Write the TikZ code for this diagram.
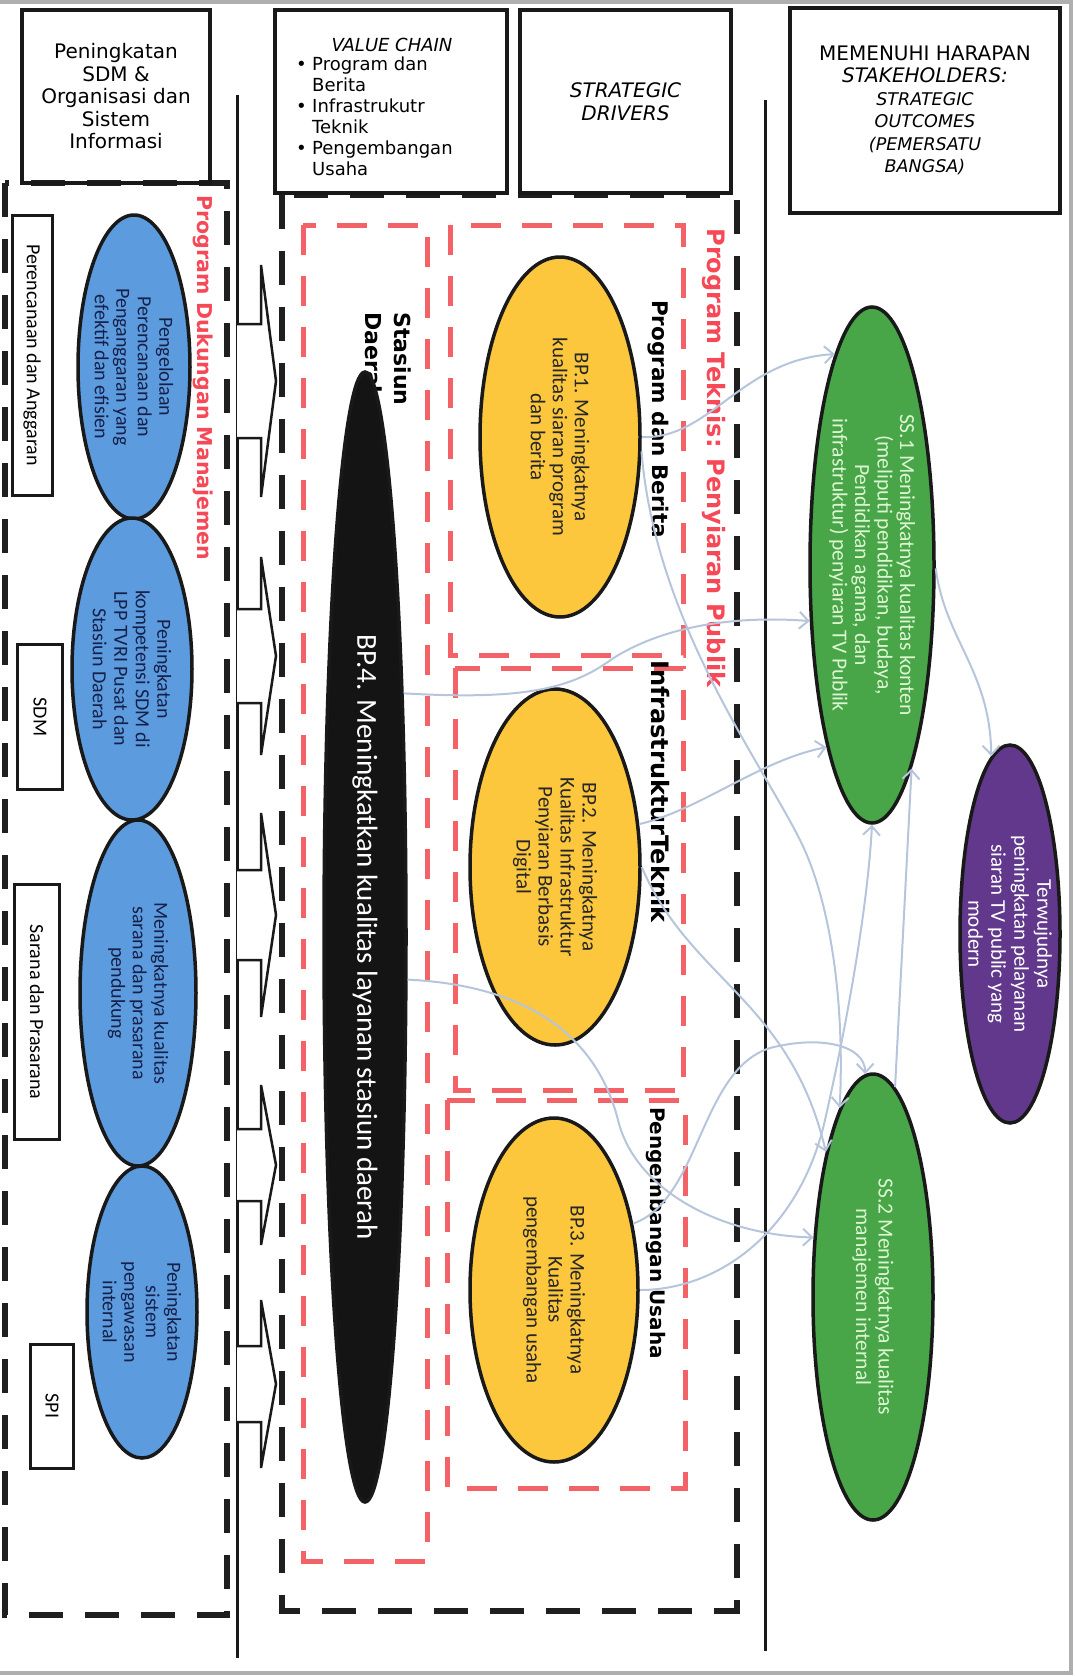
\documentclass[tikz,border=0pt]{standalone}
\usepackage{fontspec}
\setmainfont{DejaVu Sans}
\newfontfamily\calib{Carlito}
\usetikzlibrary{arrows.meta,shapes.geometric}
\definecolor{blueF}{RGB}{91,155,222}
\definecolor{navyT}{RGB}{22,32,72}
\definecolor{yellowF}{RGB}{252,199,60}
\definecolor{greenF}{RGB}{72,166,72}
\definecolor{purpleF}{RGB}{98,56,140}
\definecolor{redD}{RGB}{243,98,102}
\definecolor{redT}{RGB}{246,72,86}
\definecolor{connC}{RGB}{182,196,220}
\definecolor{ssT}{RGB}{220,246,210}
\definecolor{frameC}{RGB}{175,175,175}
\begin{document}
\begin{tikzpicture}[x=1pt,y=-1pt,
  hbox/.style={draw=black!90, line width=4pt, rectangle, inner sep=0pt, align=center},
  bdash/.style={draw=black!88, line width=6.5pt, dash pattern=on 34pt off 22pt},
  rdash/.style={draw=redD, line width=5pt, dash pattern=on 30pt off 21pt},
  divline/.style={draw=black!90, line width=3pt},
  barrow/.style={draw=black!90, line width=2.5pt, fill=white, line join=miter},
  ell/.style={ellipse, draw=black!90, line width=3.5pt, inner sep=0pt},
  vtext/.style={rotate=-90, align=center, inner sep=0pt},
  lbox/.style={rectangle, draw=black!90, line width=3pt, rotate=-90, inner sep=0pt, font=\calib\fontsize{20}{22}\selectfont},
  etext/.style={vtext, font=\calib\fontsize{20}{21.5}\selectfont},
  grp/.style={vtext, anchor=west, font=\bfseries\fontsize{22}{29}\selectfont},
  conn/.style={draw=connC, line width=2pt, -{Straight Barb[length=9pt,width=17pt]}}
]
\useasboundingbox (0,0) rectangle (1075,1676);
% outer frame
\draw[frameC, line width=4pt] (0,2) -- (1071,2) -- (1071,1673) -- (0,1673);

% dashed regions
\draw[bdash] (5,183) rectangle (227,1615);
\draw[bdash] (282,195) rectangle (737,1611);
\draw[rdash] (303,225) rectangle (427,1561);
\draw[rdash] (450,225) rectangle (683,655);
\draw[rdash] (455,668) rectangle (683,1090);
\draw[rdash] (447,1100) rectangle (685,1488);

% divider lines
\draw[divline] (237,95) -- (237,1658);
\draw[divline] (765,100) -- (765,1651);

% header boxes
\node[hbox, minimum width=188pt, minimum height=173pt, font=\fontsize{20}{22.5}\selectfont] (h1) at (116,96.5)
  {Peningkatan\\SDM \&\\Organisasi dan\\Sistem\\Informasi};
\node[hbox, minimum width=232pt, minimum height=183pt] (h2) at (391,101.5) {};
\node[inner sep=0pt, font=\itshape\fontsize{18}{21}\selectfont] (vc) at (392,45) {VALUE CHAIN};
\node[anchor=north west, align=left, inner sep=0pt, font=\fontsize{18}{21}\selectfont] (vcl) at (296,57)
  {\makebox[16pt][l]{•}Program dan\\\hspace*{16pt}Berita\\\makebox[16pt][l]{•}Infrastrukutr\\\hspace*{16pt}Teknik\\\makebox[16pt][l]{•}Pengembangan\\\hspace*{16pt}Usaha};
\node[hbox, minimum width=211pt, minimum height=183pt, font=\itshape\fontsize{20}{23}\selectfont] (h3) at (625.5,101.5)
  {STRATEGIC\\DRIVERS};
\node[hbox, minimum width=270pt, minimum height=205pt, font=\fontsize{20}{22.5}\selectfont] (h4) at (925,110.5)
  {MEMENUHI HARAPAN\\\textit{STAKEHOLDERS:}\\{\fontsize{17.5}{22.5}\selectfont\itshape STRATEGIC}\\{\fontsize{17.5}{22.5}\selectfont\itshape OUTCOMES}\\{\fontsize{17.5}{22.5}\selectfont\itshape (PEMERSATU}\\{\fontsize{17.5}{22.5}\selectfont\itshape BANGSA)}};

% block arrows
\foreach \c/\h/\b in {381/116/57, 656/99/47, 915/102/45, 1165/80/36, 1384/84/38}{
  \draw[barrow] (237,{\c-\b}) -- (261,{\c-\b}) -- (261,{\c-\h}) -- (276,\c) -- (261,{\c+\h}) -- (261,{\c+\b}) -- (237,{\c+\b});
}

% left label boxes
\node[lbox, minimum width=280pt, minimum height=40pt] (rpa) at (32,355) {Perencanaan dan Anggaran};
\node[lbox, minimum width=145pt, minimum height=45pt] (rsdm) at (40,717) {SDM};
\node[lbox, minimum width=255pt, minimum height=45pt] (rsp) at (37,1012) {Sarana dan Prasarana};
\node[lbox, minimum width=124pt, minimum height=43pt] (rspi) at (52,1406) {SPI};

% group labels
\node[vtext, text=redT, font=\bfseries\fontsize{20.5}{24}\selectfont] (pdml) at (203,378) {Program Dukungan Manajemen};
\node[vtext, text=redT, font=\bfseries\fontsize{24}{28}\selectfont] (ptl) at (714,458) {Program Teknis: Penyiaran Publik};
\node[grp, align=left] (stl) at (388,312) {Stasiun\\Daerah};
\node[grp, font=\bfseries\fontsize{21.5}{26}\selectfont] (pdbl) at (658,300) {Program dan Berita};
\node[grp, font=\bfseries\fontsize{24}{28}\selectfont] (infl) at (660,660) {InfrastrukturTeknik};
\node[grp, font=\bfseries\fontsize{20}{24}\selectfont] (pul) at (656,1107) {Pengembangan Usaha};

% ellipses
\node[ell, fill=blueF, minimum width=112pt, minimum height=304pt] (bl1) at (134,367) {};
\node[ell, fill=blueF, minimum width=120pt, minimum height=302pt] (bl2) at (132,669) {};
\node[ell, fill=blueF, minimum width=116pt, minimum height=346pt] (bl3) at (138,993) {};
\node[ell, fill=blueF, minimum width=110pt, minimum height=292pt] (bl4) at (142,1312) {};
\node[ell, fill=yellowF, minimum width=160pt, minimum height=360pt] (bp1) at (560,437) {};
\node[ell, fill=yellowF, minimum width=170pt, minimum height=356pt] (bp2) at (555,867) {};
\node[ell, fill=yellowF, minimum width=168pt, minimum height=344pt] (bp3) at (554,1290) {};
\node[ell, fill=black!92, minimum width=82pt, minimum height=1130pt] (bp4) at (365,937) {};
\node[ell, fill=greenF, minimum width=124pt, minimum height=516pt] (ss1) at (872,565) {};
\node[ell, fill=greenF, minimum width=120pt, minimum height=446pt] (ss2) at (873,1297) {};
\node[ell, fill=purpleF, minimum width=100pt, minimum height=378pt] (pu) at (1010,934) {};

% ellipse texts
\node[etext, text=navyT] (bl1t) at (bl1.center) {Pengelolaan\\Perencanaan dan\\Penganggaran yang\\efektif dan efisien};
\node[etext, text=navyT] (bl2t) at (bl2.center) {Peningkatan\\kompetensi SDM di\\LPP TVRI Pusat dan\\Stasiun Daerah};
\node[etext, text=navyT] (bl3t) at (bl3.center) {Meningkatnya kualitas\\sarana dan prasarana\\pendukung};
\node[etext, text=navyT] (bl4t) at (bl4.center) {Peningkatan\\sistem\\pengawasan\\internal};
\node[etext, text=black!85, font=\calib\fontsize{21}{22}\selectfont] (bp1t) at (bp1.center) {BP.1. Meningkatnya\\kualitas siaran program\\dan berita};
\node[etext, text=black!85, font=\calib\fontsize{21}{22}\selectfont] (bp2t) at (bp2.center) {BP.2. Meningkatnya\\Kualitas Infrastruktur\\Penyiaran Berbasis\\Digital};
\node[etext, text=black!85, font=\calib\fontsize{21}{22}\selectfont] (bp3t) at (bp3.center) {BP.3. Meningkatnya\\Kualitas\\pengembangan usaha};
\node[etext, text=white, font=\calib\fontsize{29}{32}\selectfont] (bp4t) at (bp4.center) {BP.4. Meningkatkan kualitas layanan stasiun daerah};
\node[etext, text=ssT, font=\calib\fontsize{21.5}{22.5}\selectfont] (ss1t) at (ss1.center) {SS.1 Meningkatnya kualitas konten\\(meliputi pendidikan, budaya,\\Pendidikan agama, dan\\infrastruktur) penyiaran TV Publik};
\node[etext, text=ssT, font=\calib\fontsize{21.5}{22.5}\selectfont] (ss2t) at (ss2.center) {SS.2 Meningkatnya kualitas\\manajemen internal};
\node[etext, text=white, font=\calib\fontsize{21}{23}\selectfont] (put) at (pu.center) {Terwujudnya\\peningkatan pelayanan\\siaran TV public yang\\modern};

% connectors
\draw[conn] (bp1.east) .. controls (710,440) and (740,360) .. (ss1.100);
\draw[conn] (bp1.-10) .. controls (655,620) and (760,760) .. (800,840) .. controls (830,900) and (845,1000) .. (ss2.100);
\draw[conn] (bp4.81) .. controls (520,700) and (570,690) .. (612,659) .. controls (660,628) and (730,615) .. (ss1.222);
\draw[conn] (bp2.27) .. controls (700,810) and (760,760) .. (ss1.256);
\draw[conn] (bp2.east) .. controls (690,980) and (790,1000) .. (ss2.108);
\draw[conn] (bp4.-45) .. controls (520,985) and (595,1030) .. (618,1120) .. controls (635,1190) and (720,1235) .. (ss2.135);
\draw[conn] (bp3.40) .. controls (700,1200) and (700,1070) .. (770,1048) .. controls (820,1035) and (865,1045) .. (ss2.92);
\draw[conn] (bp3.east) .. controls (720,1290) and (800,1230) .. (825,1120) .. controls (850,1010) and (868,900) .. (ss1.south);
\draw[conn] (ss2.84) -- (ss1.-79);
\draw[conn] (ss1.-3) .. controls (945,640) and (990,670) .. (pu.96);
\end{tikzpicture}
\end{document}
